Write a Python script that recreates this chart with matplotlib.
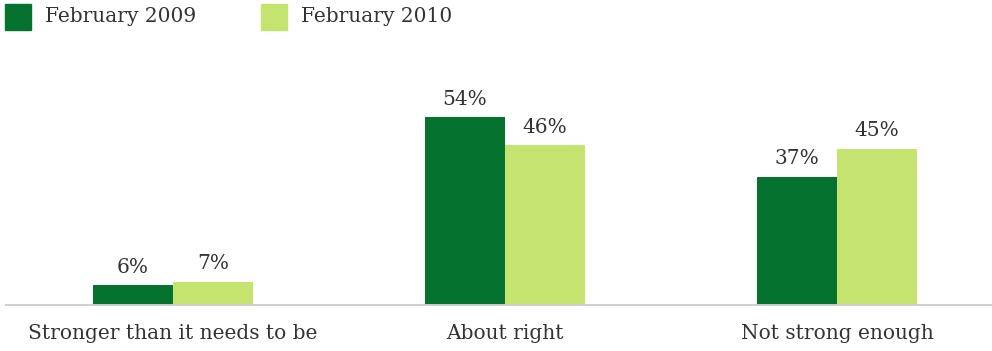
import matplotlib
matplotlib.use("Agg")
import matplotlib.pyplot as plt
from matplotlib.patches import Rectangle

categories = ["Stronger than it needs to be", "About right", "Not strong enough"]
series_names = ["February 2009", "February 2010"]
feb_2009 = [6, 54, 37]
feb_2010 = [7, 46, 45]

dark_green = "#05732f"
light_green = "#c5e36f"
text_color = "#333333"
font = ["DejaVu Serif"]
fs = 14.5

W, H = 992, 351
fig = plt.figure(figsize=(W / 100, H / 100), dpi=100)

# Axes: baseline at 306 px from top, 3.5 px per percentage point
ax_left = 5 / W
ax_bottom = (H - 306) / H
ax_top_px = 60
ax = fig.add_axes([ax_left, ax_bottom, 1 - ax_left, (306 - ax_top_px) / H])
ax.set_xlim(-168 / 332, 2 + 155 / 332)
ax.set_ylim(0, (306 - ax_top_px) / 3.5)

bw = 80 / 332
x = range(len(categories))
for xi, v1, v2 in zip(x, feb_2009, feb_2010):
    ax.bar(xi - bw / 2, v1, width=bw, color=dark_green, linewidth=0)
    ax.bar(xi + bw / 2, v2, width=bw, color=light_green, linewidth=0)
    ax.text(xi - bw / 2, v1 + 2.4, f"{v1}%", ha="center", va="bottom",
            fontsize=fs, family=font, color=text_color)
    ax.text(xi + bw / 2, v2 + 2.4, f"{v2}%", ha="center", va="bottom",
            fontsize=fs, family=font, color=text_color)

ax.axhline(0, color="#cfcfcf", linewidth=2.8, zorder=3)
for s in ax.spines.values():
    s.set_visible(False)
ax.set_yticks([])
ax.set_xticks(list(x))
ax.set_xticklabels(categories, fontsize=fs, family=font, color=text_color)
ax.tick_params(axis="x", length=0, pad=13)

# Legend across the top
for (x0, name, col) in [(5, series_names[0], dark_green), (261, series_names[1], light_green)]:
    fig.patches.append(Rectangle((x0 / W, (H - 30) / H), 26 / W, 26 / H,
                                 transform=fig.transFigure, color=col))
    fig.text((x0 + 40) / W, (H - 17) / H, name, ha="left", va="center",
             fontsize=fs, family=font, color=text_color)

fig.savefig("out.png", dpi=100)
